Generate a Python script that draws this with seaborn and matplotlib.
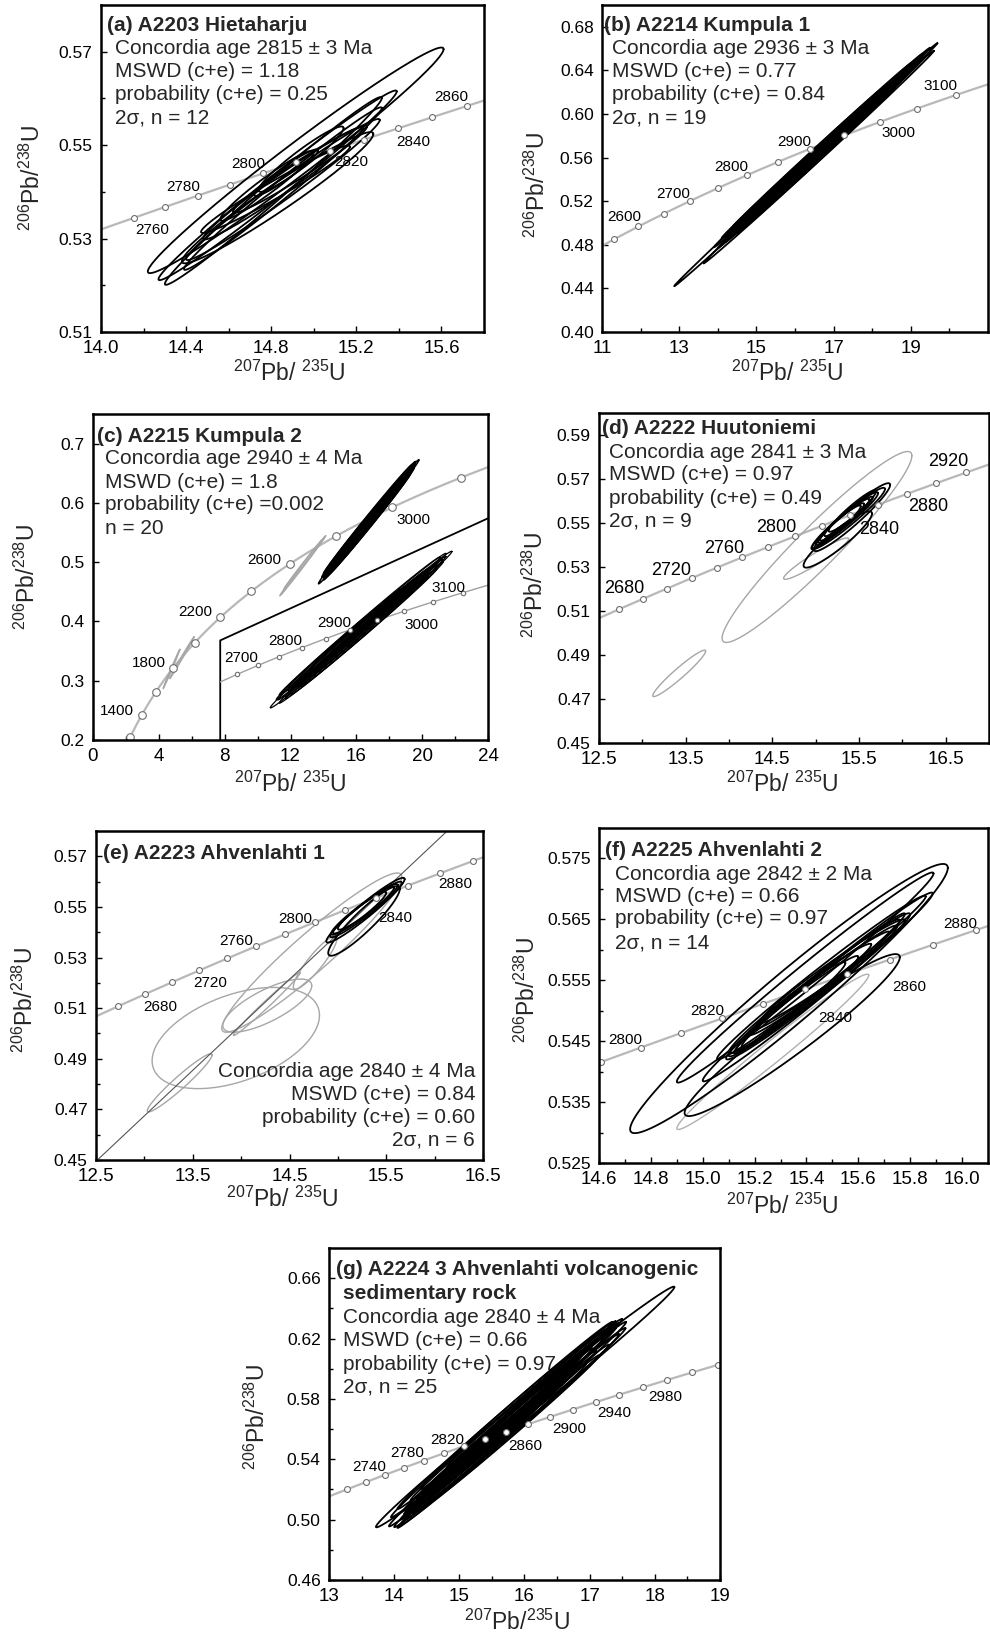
import numpy as np
import pandas as pd
import matplotlib
matplotlib.use("Agg")
import matplotlib.pyplot as plt
from matplotlib.ticker import FixedLocator, FormatStrFormatter, NullLocator
import seaborn as sns

sns.set_theme(style="white")
plt.rcParams["font.family"] = ["Liberation Sans", "DejaVu Sans"]
plt.rcParams["mathtext.fontset"] = "custom"
plt.rcParams["mathtext.rm"] = "Liberation Sans"
plt.rcParams["mathtext.it"] = "Liberation Sans:italic"
plt.rcParams["mathtext.bf"] = "Liberation Sans:bold"

# U decay constants (per year)
LAMBDA_238 = 1.55125e-10
LAMBDA_235 = 9.8485e-10

# ------------------------------------------------------------------ data
# (a) A2203 Hietaharju
A_marker_ages = [2760, 2770, 2780, 2790, 2800, 2810, 2820, 2830, 2840, 2850, 2860]
A_label_ages = [2760, 2780, 2800, 2820, 2840, 2860]
A_xlo = [14.22, 14.27, 14.30, 14.39, 14.40, 14.48, 14.62, 14.47, 14.38, 14.72, 14.74, 14.56]
A_xhi = [15.61, 15.39, 15.32, 15.32, 15.31, 15.23, 15.25, 15.17, 15.28, 15.02, 15.14, 15.00]
A_ylo = [0.5226, 0.5211, 0.5201, 0.5233, 0.5254, 0.5298, 0.5355, 0.5312, 0.5247, 0.5391, 0.5400, 0.5338]
A_yhi = [0.5709, 0.5617, 0.5603, 0.5581, 0.5556, 0.5538, 0.5542, 0.5499, 0.5528, 0.5491, 0.5540, 0.5488]
A_rho = [0.985, 0.99, 0.99, 0.99, 0.985, 0.98, 0.975, 0.975, 0.97, 0.95, 0.95, 0.96]
A_xticks = [14.0, 14.4, 14.8, 15.2, 15.6]
A_xminor = [14.2, 14.6, 15.0, 15.4]
A_yticks = [0.51, 0.53, 0.55, 0.57]
A_yminor = [0.52, 0.54, 0.56]

# (b) A2214 Kumpula 1
B_marker_ages = [2550, 2600, 2650, 2700, 2750, 2800, 2850, 2900, 2950, 3000, 3050, 3100]
B_label_ages = [2600, 2700, 2800, 2900, 3000, 3100]
B_xlo = [12.87, 13.63, 13.90, 14.00, 14.10, 14.20, 14.30, 14.40, 14.50, 14.70, 14.80, 14.30, 15.00, 14.60, 15.20, 14.20, 15.50, 14.90, 14.50]
B_xhi = [19.69, 19.60, 19.50, 19.40, 19.00, 18.80, 18.50, 18.30, 18.60, 18.20, 18.00, 19.20, 18.40, 17.90, 18.70, 17.60, 19.00, 19.30, 18.90]
B_ylo = [0.4420, 0.4629, 0.4777, 0.4770, 0.4862, 0.4825, 0.4898, 0.4970, 0.4903, 0.5048, 0.5041, 0.4888, 0.5157, 0.4946, 0.5202, 0.4865, 0.5260, 0.5114, 0.4923]
B_yhi = [0.6650, 0.6581, 0.6608, 0.6535, 0.6465, 0.6329, 0.6271, 0.6246, 0.6244, 0.6193, 0.6088, 0.6490, 0.6268, 0.6025, 0.6346, 0.5977, 0.6405, 0.6553, 0.6362]
B_rho = [0.9995, 0.9992, 0.9992, 0.9992, 0.9992, 0.9992, 0.9992, 0.9992, 0.9992, 0.9992,
         0.9992, 0.9992, 0.9992, 0.9992, 0.9992, 0.9992, 0.9992, 0.9992, 0.9992]
B_xticks = [11, 13, 15, 17, 19]
B_xminor = [12, 14, 16, 18, 20]
B_yticks = [0.40, 0.44, 0.48, 0.52, 0.56, 0.60, 0.64, 0.68]
B_yminor = []

# (c) A2215 Kumpula 2
C_marker_ages = [1200, 1400, 1600, 1800, 2000, 2200, 2400, 2600, 2800, 3000, 3200]
C_label_ages = [1400, 1800, 2200, 2600, 3000]
C_inset_marker_ages = [2650, 2700, 2750, 2800, 2850, 2900, 2950, 3000, 3050, 3100]
C_inset_label_ages = [2700, 2800, 2900, 3000, 3100]
C_xlo = [13.7, 13.9, 14.0, 14.1, 14.2, 14.3, 14.4, 14.5, 14.6, 14.8, 14.0, 14.2, 14.4, 14.6, 15.0, 15.2, 13.95, 14.3, 14.7, 15.4]
C_xhi = [19.8, 19.6, 19.5, 19.4, 19.3, 19.1, 19.0, 18.8, 18.6, 18.4, 18.2, 18.9, 19.2, 19.5, 19.0, 18.7, 18.5, 17.9, 19.3, 19.6]
C_ylo = [0.4635, 0.4744, 0.4698, 0.4832, 0.4787, 0.4861, 0.4815, 0.4939, 0.4914, 0.5062, 0.4808, 0.4757, 0.4885, 0.4934, 0.5121, 0.5110, 0.4741, 0.4901, 0.4918, 0.5218]
C_yhi = [0.6727, 0.6699, 0.6584, 0.6650, 0.6536, 0.6507, 0.6393, 0.6414, 0.6286, 0.6297, 0.6249, 0.6369, 0.6532, 0.6614, 0.6493, 0.6310, 0.6302, 0.6136, 0.6496, 0.6659]
C_rho = [0.997] * 20
C_gxlo = [11.35, 11.60, 4.26, 4.66]
C_gxhi = [14.14, 13.90, 5.28, 6.14]
C_gylo = [0.4432, 0.4550, 0.2867, 0.3036]
C_gyhi = [0.5446, 0.5370, 0.3530, 0.3740]
C_grho = [0.998, 0.998, 0.997, 0.997]
C_inset_frame_x = [7.73, 7.73, 24.0]
C_inset_frame_y = [0.20, 0.368, 0.574]
C_inset_xlim = (12.02, 21.01)
C_inset_ylim = (0.4207, 0.7166)
C_xticks = [0, 4, 8, 12, 16, 20, 24]
C_xminor = [2, 6, 10, 14, 18, 22]
C_yticks = [0.2, 0.3, 0.4, 0.5, 0.6, 0.7]
C_yminor = []

# (d) A2222 Huutoniemi
D_marker_ages = [2660, 2680, 2700, 2720, 2740, 2760, 2780, 2800, 2820, 2840, 2860, 2880, 2900, 2920]
D_label_ages = [2680, 2720, 2760, 2800, 2840, 2880, 2920]
D_xlo = [14.86, 14.98, 14.95, 15.00, 15.05, 15.10, 14.96, 15.15, 15.03]
D_xhi = [15.65, 15.86, 15.80, 15.72, 15.66, 15.62, 15.56, 15.70, 15.52]
D_ylo = [0.5297, 0.5372, 0.5380, 0.5400, 0.5420, 0.5440, 0.5385, 0.5460, 0.5410]
D_yhi = [0.5553, 0.5681, 0.5660, 0.5640, 0.5620, 0.5610, 0.5590, 0.5650, 0.5580]
D_rho = [0.92, 0.95, 0.96, 0.96, 0.96, 0.95, 0.96, 0.95, 0.95]
D_gxlo = [13.92, 13.12, 14.63]
D_gxhi = [16.11, 13.73, 15.38]
D_gylo = [0.4957, 0.4711, 0.5244]
D_gyhi = [0.5825, 0.4922, 0.5432]
D_grho = [0.955, 0.958, 0.95]
D_xticks = [12.5, 13.5, 14.5, 15.5, 16.5]
D_xminor = [13, 14, 15, 16]
D_yticks = [0.45, 0.47, 0.49, 0.51, 0.53, 0.55, 0.57, 0.59]
D_yminor = []

# (e) A2223 Ahvenlahti 1
E_marker_ages = [2660, 2680, 2700, 2720, 2740, 2760, 2780, 2800, 2820, 2840, 2860, 2880, 2900]
E_label_ages = [2680, 2720, 2760, 2800, 2840, 2880]
E_discordia_ages = [0, 2840]
E_xlo = [14.90, 14.88, 14.92, 14.95, 15.00, 14.93]
E_xhi = [15.64, 15.69, 15.66, 15.62, 15.58, 15.50]
E_ylo = [0.5307, 0.5359, 0.5380, 0.5395, 0.5410, 0.5390]
E_yhi = [0.5582, 0.5615, 0.5600, 0.5590, 0.5580, 0.5560]
E_rho = [0.92, 0.96, 0.96, 0.96, 0.95, 0.95]
E_gxlo = [13.80, 13.08, 13.81, 13.03, 13.92, 14.54]
E_gxhi = [15.66, 14.81, 14.73, 13.70, 14.61, 14.99]
E_gylo = [0.5005, 0.4782, 0.5005, 0.4690, 0.4992, 0.5175]
E_gyhi = [0.5634, 0.5182, 0.5215, 0.4920, 0.5241, 0.5385]
E_grho = [0.95, 0.45, 0.75, 0.96, 0.99, 0.90]
E_xticks = [12.5, 13.5, 14.5, 15.5, 16.5]
E_xminor = [13, 14, 15, 16]
E_yticks = [0.45, 0.47, 0.49, 0.51, 0.53, 0.55, 0.57]
E_yminor = [0.46, 0.48, 0.50, 0.52, 0.54, 0.56]

# (f) A2225 Ahvenlahti 2
F_marker_ages = [2790, 2800, 2810, 2820, 2830, 2840, 2850, 2860, 2870, 2880]
F_label_ages = [2800, 2820, 2840, 2860, 2880]
F_xlo = [14.72, 14.93, 14.90, 15.00, 15.055, 15.09, 15.10, 15.12, 15.15, 15.18, 15.20, 15.13, 15.22, 15.10]
F_xhi = [15.945, 15.76, 15.89, 15.887, 15.86, 15.80, 15.76, 15.78, 15.75, 15.72, 15.65, 15.60, 15.78, 15.55]
F_ylo = [0.5299, 0.5327, 0.5382, 0.5384, 0.5420, 0.5420, 0.5425, 0.5430, 0.5440, 0.5460, 0.5470, 0.5435, 0.5480, 0.5430]
F_yhi = [0.5741, 0.5593, 0.5727, 0.5694, 0.5689, 0.5660, 0.5650, 0.5660, 0.5640, 0.5630, 0.5610, 0.5590, 0.5650, 0.5580]
F_rho = [0.97, 0.96, 0.99, 0.99, 0.99, 0.985, 0.985, 0.99, 0.985, 0.985, 0.98, 0.98, 0.98, 0.975]
F_gxlo = [14.90]
F_gxhi = [15.64]
F_gylo = [0.5305]
F_gyhi = [0.5560]
F_grho = [0.985]
F_xticks = [14.6, 14.8, 15.0, 15.2, 15.4, 15.6, 15.8, 16.0]
F_xminor = [14.7, 14.9, 15.1, 15.3, 15.5, 15.7, 15.9]
F_yticks = [0.525, 0.535, 0.545, 0.555, 0.565, 0.575]
F_yminor = [0.530, 0.540, 0.550, 0.560, 0.570]

# (g) A2224 3 Ahvenlahti volcanogenic sedimentary rock
G_marker_ages = [2700, 2720, 2740, 2760, 2780, 2800, 2820, 2840, 2860, 2880, 2900, 2920,
                 2940, 2960, 2980, 3000, 3020, 3040]
G_label_ages = [2740, 2780, 2820, 2860, 2900, 2940, 2980]
G_xlo = [13.72, 13.92, 13.95, 14.00, 14.05, 14.10, 14.15, 14.20, 14.25, 14.30, 14.35, 14.10, 14.40,
         14.50, 14.60, 14.15, 14.70, 14.20, 14.80, 14.05, 15.00, 14.30, 14.45, 14.25, 14.55]
G_xhi = [18.30, 17.56, 17.50, 17.45, 17.40, 17.30, 17.20, 17.10, 17.00, 16.95, 16.90, 16.80, 17.35,
         17.15, 17.05, 16.60, 17.45, 16.40, 17.25, 16.20, 17.40, 16.70, 16.85, 17.55, 16.50]
G_ylo = [0.4949, 0.4955, 0.5015, 0.4950, 0.5070, 0.4965, 0.5060, 0.5040, 0.5125, 0.5045, 0.5140, 0.5000, 0.5200,
         0.5100, 0.5215, 0.5035, 0.5280, 0.5010, 0.5340, 0.4945, 0.5370, 0.5070, 0.5180, 0.5040, 0.5190]
G_yhi = [0.6544, 0.6311, 0.6330, 0.6230, 0.6315, 0.6160, 0.6200, 0.6120, 0.6150, 0.6035, 0.6100, 0.6000, 0.6310,
         0.6090, 0.6135, 0.5945, 0.6305, 0.5840, 0.6260, 0.5750, 0.6270, 0.5980, 0.6080, 0.6270, 0.5920]
G_rho = [0.996] + [0.997] * 24
G_xticks = [13, 14, 15, 16, 17, 18, 19]
G_xminor = [13.5, 14.5, 15.5, 16.5, 17.5, 18.5]
G_yticks = [0.46, 0.50, 0.54, 0.58, 0.62, 0.66]
G_yminor = [0.48, 0.52, 0.56, 0.60, 0.64]

# ------------------------------------------------------------------ layout
W, H = 990, 1635
LINE = "#b8b8b8"
EDGE = "#6e6e6e"
GREY = "#a6a6a6"
CURVE_AGES = np.arange(1000.0, 3600.0, 2.0)
T = np.linspace(0, 2 * np.pi, 241)

YLAB = r"$^{206}$Pb/$^{238}$U"
XLAB = r"$^{207}$Pb/ $^{235}$U"
XLAB_G = r"$^{207}$Pb/$^{235}$U"


def concordia(ages_ma):
    t = np.asarray(ages_ma, dtype=float) * 1e6
    return np.expm1(LAMBDA_235 * t), np.expm1(LAMBDA_238 * t)


def make_axes(fig, box):
    l, t, r, b = box
    return fig.add_axes([l / W, 1 - b / H, (r - l) / W, (b - t) / H])


def style(ax, xlim, ylim, xt, xm, yt, ym, xf, yf):
    ax.set_xlim(*xlim)
    ax.set_ylim(*ylim)
    ax.xaxis.set_major_locator(FixedLocator(xt))
    ax.yaxis.set_major_locator(FixedLocator(yt))
    ax.xaxis.set_minor_locator(FixedLocator(xm))
    ax.yaxis.set_minor_locator(FixedLocator(ym))
    ax.xaxis.set_major_formatter(FormatStrFormatter(xf))
    ax.yaxis.set_major_formatter(FormatStrFormatter(yf))
    ax.tick_params(which="both", direction="in", bottom=True, left=True, top=False, right=False,
                   color="black", width=1.0, labelcolor="black")
    ax.tick_params(which="major", length=4)
    ax.tick_params(which="minor", length=3)
    ax.tick_params(axis="x", labelsize=13.5, pad=5.5)
    ax.tick_params(axis="y", labelsize=12.5, pad=6)
    ax.set_xlabel("")
    ax.set_ylabel("")
    for sp in ax.spines.values():
        sp.set_linewidth(1.8)
        sp.set_color("black")
        sp.set_zorder(10)


def draw_concordia(ax, marker_ages, label_ages, label_pos, lw=1.6, color=LINE, ms=18, fs=11):
    cx, cy = concordia(CURVE_AGES)
    sns.lineplot(x=cx, y=cy, sort=False, estimator=None, color=color, linewidth=lw, ax=ax, zorder=2)
    mx, my = concordia(marker_ages)
    sns.scatterplot(x=mx, y=my, s=ms, color="white", edgecolor=EDGE, linewidth=0.8, ax=ax, zorder=6)
    lx, ly = concordia(label_ages)
    for x, y, age, (ha, dx, dy) in zip(lx, ly, label_ages, label_pos):
        ax.annotate(str(age), (x, y), xytext=(dx, dy), textcoords="offset pixels",
                    ha=ha, va="center", fontsize=fs, color="black", zorder=7)


def draw_ellipses(ax, xlo, xhi, ylo, yhi, rho, color="black", lw=1.3):
    for a, b, c, d, r in zip(xlo, xhi, ylo, yhi, rho):
        cx, cy = (a + b) / 2, (c + d) / 2
        sx, sy = (b - a) / 2, (d - c) / 2
        xs = cx + sx * np.cos(T)
        ys = cy + sy * (r * np.cos(T) + np.sqrt(1 - r * r) * np.sin(T))
        ax.plot(xs, ys, color=color, lw=lw, zorder=3 if color == "black" else 2.5)


def texts(ax, title_lines, title_pos, lines, x, ys, fs=15):
    for (tl, (tx, ty)) in zip(title_lines, title_pos):
        ax.annotate(tl, (0, 1), xycoords="axes fraction", xytext=(tx, -ty), textcoords="offset pixels",
                    ha="left", va="center", fontsize=fs, fontweight="bold", zorder=12)
    for s, y in zip(lines, ys):
        ax.annotate(s, (0, 1), xycoords="axes fraction", xytext=(x, -y), textcoords="offset pixels",
                    ha="left", va="center", fontsize=fs, zorder=12)


def axis_labels(fig, ylab_xy, xlab_xy, xlab=XLAB, fs=16.5):
    fig.text(ylab_xy[0] / W, 1 - ylab_xy[1] / H, YLAB, rotation=90, ha="center", va="center", fontsize=fs)
    fig.text(xlab_xy[0] / W, 1 - xlab_xy[1] / H, xlab, ha="center", va="center", fontsize=fs)


fig = plt.figure(figsize=(W / 100, H / 100), dpi=100)
fig.patch.set_facecolor("white")

AL = "right"
BR = "left"

# ---- (a)
ax = make_axes(fig, (101, 5, 484, 332))
draw_concordia(ax, A_marker_ages, A_label_ages,
               [(BR, 2, -12), (AL, 2, 9), (AL, 2, 9), (BR, 4, -11), (BR, -2, -14), (AL, 1, 9)], ms=18)
draw_ellipses(ax, A_xlo, A_xhi, A_ylo, A_yhi, A_rho)
style(ax, (14.0, 15.8), (0.51, 0.58), A_xticks, A_xminor, A_yticks, A_yminor, "%.1f", "%.2f")
texts(ax, ["(a) A2203 Hietaharju"], [(6, 21)],
      ["Concordia age 2815 ± 3 Ma", "MSWD (c+e) = 1.18", "probability (c+e) = 0.25", "2σ, n = 12"],
      14, [44, 67, 90, 113])
axis_labels(fig, (32, 178), (289, 373))

# ---- (b)
ax = make_axes(fig, (602, 5, 988, 332))
draw_concordia(ax, B_marker_ages, B_label_ages,
               [(AL, 3, 9), (AL, 0, 7), (AL, 1, 8), (AL, 1, 7), (BR, 2, -11), (AL, 1, 9)], ms=18)
draw_ellipses(ax, B_xlo, B_xhi, B_ylo, B_yhi, B_rho)
style(ax, (11, 21), (0.40, 0.70), B_xticks, B_xminor, B_yticks, B_yminor, "%d", "%.2f")
texts(ax, ["(b) A2214 Kumpula 1"], [(2, 21)],
      ["Concordia age 2936 ± 3 Ma", "MSWD (c+e) = 0.77", "probability (c+e) = 0.84", "2σ, n = 19"],
      10, [44, 67, 90, 113])
axis_labels(fig, (537, 185), (787, 373))

# ---- (c)
ax = make_axes(fig, (93, 414, 488, 740))
draw_concordia(ax, C_marker_ages, C_label_ages,
               [(AL, -8, 4), (AL, -8, 5), (AL, -8, 5), (AL, -8, 4), (BR, 4, -13)], ms=30)
draw_ellipses(ax, C_gxlo, C_gxhi, C_gylo, C_gyhi, C_grho, color=GREY, lw=1.0)
draw_ellipses(ax, C_xlo, C_xhi, C_ylo, C_yhi, C_rho, lw=1.1)
sns.lineplot(x=C_inset_frame_x, y=C_inset_frame_y, sort=False, estimator=None,
             color="black", linewidth=1.3, ax=ax, zorder=4)
style(ax, (0, 24), (0.2, 0.75), C_xticks, C_xminor, C_yticks, C_yminor, "%d", "%.1f")
axin = ax.inset_axes([C_inset_frame_x[0], C_inset_frame_y[0],
                      C_inset_frame_x[2] - C_inset_frame_x[0], C_inset_frame_y[2] - C_inset_frame_y[0]],
                     transform=ax.transData)
axin.patch.set_alpha(0)
draw_concordia(axin, C_inset_marker_ages, C_inset_label_ages,
               [(AL, 0, 7), (AL, 0, 7), (AL, 1, 7), (BR, 0, -14), (AL, 2, 5)],
               lw=1.0, color="#a0a0a0", ms=10, fs=11)
draw_ellipses(axin, C_xlo, C_xhi, C_ylo, C_yhi, C_rho, lw=0.9)
axin.set_xlim(*C_inset_xlim)
axin.set_ylim(*C_inset_ylim)
axin.xaxis.set_major_locator(NullLocator())
axin.yaxis.set_major_locator(NullLocator())
axin.xaxis.set_minor_locator(NullLocator())
axin.yaxis.set_minor_locator(NullLocator())
axin.set_xlabel("")
axin.set_ylabel("")
for sp in axin.spines.values():
    sp.set_visible(False)
texts(ax, ["(c) A2215 Kumpula 2"], [(4, 23)],
      ["Concordia age 2940 ± 4 Ma", "MSWD (c+e) = 1.8", "probability (c+e) =0.002", "n = 20"],
      12, [45, 68, 91, 114])
axis_labels(fig, (27, 577), (290, 784))

# ---- (d)
ax = make_axes(fig, (599, 413, 989, 743))
draw_concordia(ax, D_marker_ages, D_label_ages,
               [(AL, 2, 10), (AL, 0, 8), (AL, 2, 9), (AL, 1, 9), (BR, 9, -14), (BR, 1, -13), (AL, 2, 11)],
               ms=18, fs=13)
draw_ellipses(ax, D_gxlo, D_gxhi, D_gylo, D_gyhi, D_grho, color=GREY, lw=1.0)
draw_ellipses(ax, D_xlo, D_xhi, D_ylo, D_yhi, D_rho)
style(ax, (12.5, 17.0), (0.45, 0.60), D_xticks, D_xminor, D_yticks, D_yminor, "%.1f", "%.2f")
texts(ax, ["(d) A2222 Huutoniemi"], [(3, 16)],
      ["Concordia age 2841 ± 3 Ma", "MSWD (c+e) = 0.97", "probability (c+e) = 0.49", "2σ, n = 9"],
      10, [39, 62, 85, 108])
axis_labels(fig, (535, 585), (782, 784))

# ---- (e)
ax = make_axes(fig, (96, 831, 483, 1160))
draw_concordia(ax, E_marker_ages, E_label_ages,
               [(BR, -2, -13), (BR, -6, -13), (AL, -3, 5), (AL, -3, 3), (BR, 2, -20), (BR, -2, -11)], ms=18)
dx_, dy_ = concordia(E_discordia_ages)
ax.axline((dx_[0], dy_[0]), (dx_[1], dy_[1]), color="#555555", lw=0.8, zorder=2.6)
draw_ellipses(ax, E_gxlo, E_gxhi, E_gylo, E_gyhi, E_grho, color=GREY, lw=1.0)
draw_ellipses(ax, E_xlo, E_xhi, E_ylo, E_yhi, E_rho)
style(ax, (12.5, 16.5), (0.45, 0.58), E_xticks, E_xminor, E_yticks, E_yminor, "%.1f", "%.2f")
texts(ax, ["(e) A2223 Ahvenlahti 1"], [(7, 22)], [], 0, [])
for s, y in zip(["Concordia age 2840 ± 4 Ma", "MSWD (c+e) = 0.84", "probability (c+e) = 0.60", "2σ, n = 6"],
                [89, 66, 43, 20]):
    ax.annotate(s, (1, 0), xycoords="axes fraction", xytext=(-8, y), textcoords="offset pixels",
                ha="right", va="center", fontsize=15, zorder=12)
axis_labels(fig, (25, 1000), (282, 1199))

# ---- (f)
ax = make_axes(fig, (599, 828, 988, 1163))
draw_concordia(ax, F_marker_ages, F_label_ages,
               [(AL, 1, 8), (AL, 2, 7), (BR, 13, -29), (BR, 3, -27), (AL, 1, 6)], ms=18)
draw_ellipses(ax, F_gxlo, F_gxhi, F_gylo, F_gyhi, F_grho, color="#b0b0b0", lw=1.0)
draw_ellipses(ax, F_xlo, F_xhi, F_ylo, F_yhi, F_rho)
style(ax, (14.6, 16.1), (0.525, 0.58), F_xticks, F_xminor, F_yticks, F_yminor, "%.1f", "%.3f")
texts(ax, ["(f) A2225 Ahvenlahti 2"], [(6, 22)],
      ["Concordia age 2842 ± 2 Ma", "MSWD (c+e) = 0.66", "probability (c+e) = 0.97", "2σ, n = 14"],
      16, [46, 69, 91, 115])
axis_labels(fig, (527, 990), (782, 1206))

# ---- (g)
ax = make_axes(fig, (329, 1248, 720, 1580))
draw_concordia(ax, G_marker_ages, G_label_ages,
               [(AL, 1, 8), (AL, 0, 8), (AL, 0, 6), (BR, 2, -14), (BR, 2, -12), (BR, 2, -11), (BR, 5, -10)],
               ms=18)
draw_ellipses(ax, G_xlo, G_xhi, G_ylo, G_yhi, G_rho)
style(ax, (13, 19), (0.46, 0.68), G_xticks, G_xminor, G_yticks, G_yminor, "%d", "%.2f")
texts(ax, ["(g) A2224 3 Ahvenlahti volcanogenic", "sedimentary rock"], [(7, 21), (14, 45)],
      ["Concordia age 2840 ± 4 Ma", "MSWD (c+e) = 0.66", "probability (c+e) = 0.97", "2σ, n = 25"],
      14, [69, 92, 116, 139])
axis_labels(fig, (257, 1417), (517, 1622), xlab=XLAB_G)

fig.savefig("out.png", dpi=100, facecolor="white")
